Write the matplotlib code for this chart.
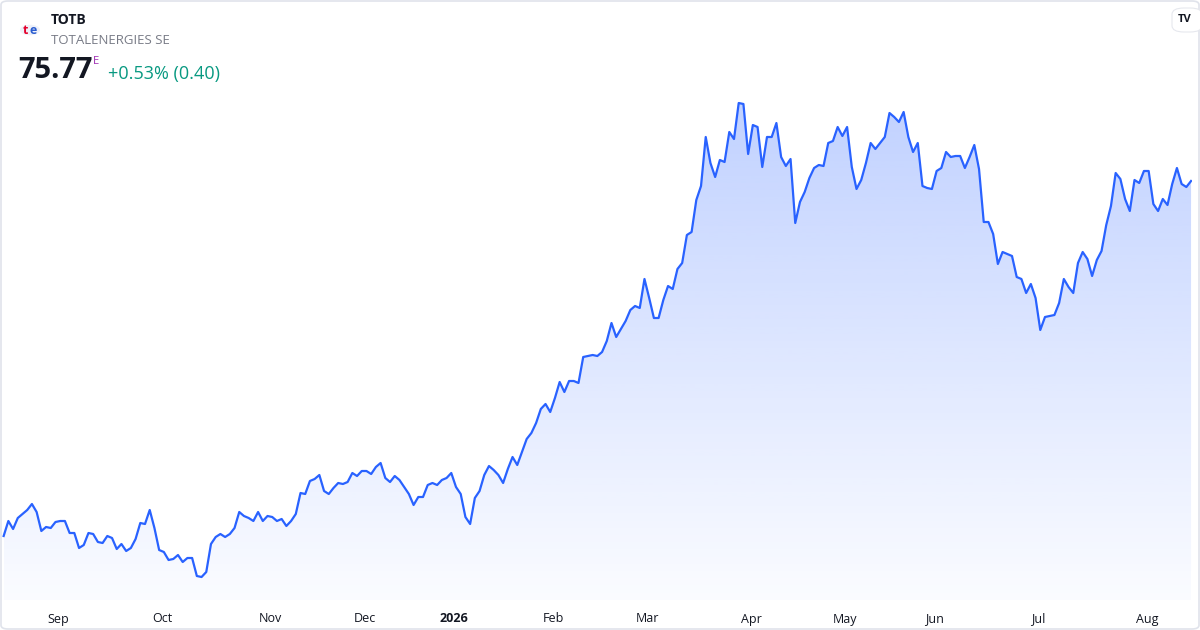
import numpy as np
import pandas as pd
import matplotlib
matplotlib.use("Agg")
import matplotlib.pyplot as plt
from matplotlib.patches import FancyBboxPatch, Circle

plt.rcParams['font.family'] = ['Open Sans', 'DejaVu Sans']

symbol = "TOTB"
name = "TOTALENERGIES SE"
last_price = "75.77"
change_text = "+0.53% (0.40)"
start_date = "2025-08-14"
holidays = ["2025-12-24", "2025-12-25", "2025-12-26", "2025-12-31", "2026-01-01",
            "2026-04-03", "2026-04-06", "2026-05-01", "2026-05-25"]

# daily closes
prices = [
    58.02, 58.77, 58.37, 58.92, 59.12, 59.32, 59.62, 59.22, 58.27, 58.47,
    58.42, 58.72, 58.77, 58.77, 58.17, 58.17, 57.42, 57.57, 58.17, 58.12,
    57.72, 57.67, 58.02, 57.92, 57.37, 57.62, 57.27, 57.42, 57.87, 58.67,
    58.62, 59.32, 58.42, 57.32, 57.22, 56.82, 56.87, 57.07, 56.72, 56.92,
    56.92, 56.02, 55.97, 56.22, 57.62, 57.97, 58.12, 57.97, 58.12, 58.42,
    59.22, 59.02, 58.92, 58.77, 59.22, 58.77, 59.02, 58.97, 58.77, 58.87,
    58.52, 58.77, 59.12, 60.17, 60.12, 60.77, 60.87, 61.07, 60.27, 60.12,
    60.42, 60.67, 60.62, 60.72, 61.17, 61.02, 61.27, 61.27, 61.12, 61.47,
    61.67, 60.92, 60.72, 61.02, 60.82,
    60.47, 60.12, 59.57, 59.97, 59.97, 60.57, 60.67, 60.57, 60.82, 60.92,
    61.17, 60.47, 60.12, 58.97, 58.62, 59.92, 60.27, 61.07, 61.52, 61.32,
    61.07, 60.67, 61.37, 61.97, 61.57, 62.22, 62.87, 63.17, 63.67, 64.37,
    64.62, 64.22, 64.92, 65.72, 65.22, 65.77, 65.77, 65.67, 66.97, 67.02,
    67.07, 67.02, 67.22, 67.77, 68.67, 67.97, 68.37, 68.77, 69.32, 69.52,
    69.42, 70.87, 69.92, 68.92, 68.92, 69.82, 70.52, 70.37, 71.37, 71.67,
    73.07, 73.22, 74.82, 75.52, 77.97, 76.67, 75.97, 76.82, 76.72, 78.22,
    77.87, 79.67, 79.62, 77.12, 78.57, 78.47, 76.47, 77.97, 77.97, 78.67,
    76.97, 76.52, 76.87, 73.67, 74.72, 75.22, 75.92, 76.42, 76.57, 76.52,
    77.67, 77.77, 78.47, 78.02, 78.47, 76.47, 75.37, 75.82, 76.67, 77.67,
    77.37, 77.67, 77.97, 79.17, 78.97, 78.72, 79.22, 77.97, 77.22, 77.67,
    75.52, 75.42, 75.37, 76.27, 76.42, 77.22, 76.97, 77.02, 77.02, 76.42,
    76.97, 77.57, 76.37, 73.72, 73.72, 73.12,
    71.62, 72.22, 72.12, 72.02, 70.97, 70.87, 70.17, 70.62, 69.92, 68.32,
    68.97, 69.02, 69.07, 69.67, 70.87, 70.47, 70.17, 71.67, 72.22, 71.87,
    71.02, 71.82, 72.27, 73.57, 74.52, 76.17, 75.87, 74.87, 74.27, 75.82,
    75.67, 76.27, 76.27, 74.62, 74.27, 74.87, 74.57, 75.62, 76.42, 75.62,
    75.47, 75.77,
]

n = len(prices)
x = np.arange(n)
dates = pd.bdate_range(start_date, periods=n, freq="C", holidays=holidays)

W, H = 1200, 630
fig = plt.figure(figsize=(12, 6.3), dpi=100)
fig.patch.set_facecolor("white")

# outer card border
fig.patches.append(FancyBboxPatch((1 / W, 1 / H), 1 - 2 / W, 1 - 2 / H,
                                  boxstyle="round,pad=0,rounding_size=0.006",
                                  transform=fig.transFigure, fc="none",
                                  ec="#e0e3eb", lw=1.2))

ax = fig.add_axes([2 / W, 30 / H, 1190 / W, 600 / H])
ymin, ymax = 54.82, 84.82
ax.set_xlim(-0.35, n - 0.8)
ax.set_ylim(ymin, ymax)

line_color = "#2962ff"
poly = ax.fill_between(x, prices, ymin, color="none", lw=0)
top = max(prices)
alpha = np.linspace(0.29, 0.02, 256).reshape(-1, 1)
grad = np.zeros((256, 1, 4))
grad[..., 0] = 41 / 255
grad[..., 1] = 98 / 255
grad[..., 2] = 1.0
grad[..., 3] = alpha
im = ax.imshow(grad, extent=[0, n - 1, ymin, top], aspect="auto",
               origin="upper", zorder=1, interpolation="bilinear")
path = poly.get_paths()[0]
im.set_clip_path(path, transform=ax.transData)

ax.plot(x, prices, color=line_color, lw=1.6, zorder=3, solid_joinstyle="round")

# month ticks at first trading day of each month
tick_pos, tick_lab = [], []
for i in range(1, n):
    if dates[i].month != dates[i - 1].month:
        tick_pos.append(i - 0.4)
        tick_lab.append(str(dates[i].year) if dates[i].month == 1 else dates[i].strftime("%b"))
ax.set_xticks(tick_pos)
ax.set_xticklabels(tick_lab)
for lab in ax.get_xticklabels():
    lab.set_fontsize(9)
    lab.set_color("#131722")
    if lab.get_text().isdigit():
        lab.set_fontweight("bold")
ax.tick_params(axis="x", length=0, pad=9)
ax.set_yticks([])
for s in ax.spines.values():
    s.set_visible(False)
ax.set_facecolor("none")

# header
fig.add_artist(Circle((30 / W, 1 - 30 / H), 10 / W, transform=fig.transFigure,
                      fc="#eef1f9", ec="none"))
fig.text(23 / W, 1 - 31 / H, "t", color="#e4002b", fontsize=9, fontweight="bold",
         va="center", ha="left")
fig.text(29 / W, 1 - 31 / H, "e", color="#2a5ccf", fontsize=9, fontweight="bold",
         va="center", ha="left")
fig.text(51 / W, 1 - 20 / H, symbol, fontsize=10, fontweight="bold",
         color="#131722", va="center", ha="left")
fig.text(51 / W, 1 - 40 / H, name, fontsize=9.5, color="#787b86",
         va="center", ha="left")
fig.text(18 / W, 1 - 71 / H, last_price, fontsize=21, fontweight="bold",
         color="#131722", va="center", ha="left")
fig.text(93 / W, 1 - 61 / H, "E", fontsize=8, color="#9c27b0",
         va="center", ha="left")
fig.text(108 / W, 1 - 74 / H, change_text, fontsize=13, color="#089981",
         va="center", ha="left")

# tv badge top right
fig.patches.append(FancyBboxPatch((1172 / W, 1 - 32 / H), 30 / W, 24 / H,
                                  boxstyle="round,pad=0,rounding_size=0.01",
                                  transform=fig.transFigure, fc="white",
                                  ec="#e6e8ee", lw=0.8))
fig.text(1185 / W, 1 - 20 / H, "TV", fontsize=8, fontweight="bold",
         color="#131722", va="center", ha="center")

fig.savefig("out.png", dpi=100)
